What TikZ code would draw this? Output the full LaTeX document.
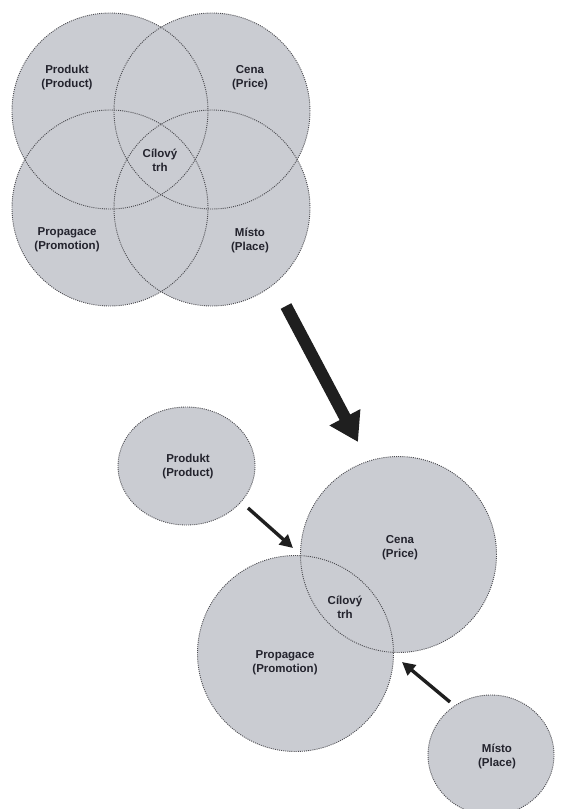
\documentclass[tikz,border=0pt]{standalone}
\usepackage{fontspec}
\setmainfont{Liberation Sans}
\usetikzlibrary{arrows.meta,shapes.geometric}

\definecolor{mixfill}{RGB}{202,204,210}
\definecolor{mixedge}{RGB}{75,75,80}
\definecolor{mixtext}{RGB}{35,35,45}

\tikzset{
  mixline/.style={draw=mixedge, line width=0.9pt, dash pattern=on 1pt off 1.1pt},
  ball/.style={circle, minimum size=196pt, inner sep=0pt},
  egg/.style={ellipse, inner sep=0pt},
  lbl/.style={align=center, text=mixtext, font=\bfseries\fontsize{11.5}{14}\selectfont, inner sep=0pt},
  bigarrow/.style={draw=black!88, line width=12pt, -{Triangle[length=28pt,width=33pt]}},
  smallarrow/.style={draw=black!88, line width=3.4pt, -{Triangle[length=13pt,width=13pt]}}
}

\begin{document}
\begin{tikzpicture}[x=1pt,y=-1pt]
  \useasboundingbox (0,0) rectangle (560,809);

  % ---- four overlapping mix elements ----
  \foreach \n/\cx/\cy in {vprod/110/111, vcena/212/111, vprop/110/208, vmisto/212/208}
    \node[ball, fill=mixfill] (\n) at (\cx,\cy) {};
  \foreach \n/\cx/\cy in {vprod/110/111, vcena/212/111, vprop/110/208, vmisto/212/208}
    \node[ball, mixline] at (\cx,\cy) {};

  \node[lbl] (tprod)  at (67,78)   {Produkt\\(Product)};
  \node[lbl] (tcena)  at (250,78)  {Cena\\(Price)};
  \node[lbl] (tcil)   at (160,160) {Cílový\\trh};
  \node[lbl] (tprop)  at (67,240)  {Propagace\\(Promotion)};
  \node[lbl] (tmisto) at (250,240) {Místo\\(Place)};

  % ---- transition arrow ----
  \coordinate (bigfrom) at (286,306);
  \coordinate (bigto)   at (358,442);
  \draw[bigarrow] (bigfrom) -- (bigto);

  % ---- separated elements ----
  \node[egg, fill=mixfill, mixline, minimum width=137pt, minimum height=118pt] (prod) at (186.5,466) {};
  \node[egg, fill=mixfill, mixline, minimum width=126pt, minimum height=120pt] (misto) at (491,755) {};

  \node[ball, fill=mixfill] (cena) at (398.5,554.5) {};
  \node[ball, fill=mixfill] (prop) at (295.5,653.5) {};
  \node[ball, mixline] at (398.5,554.5) {};
  \node[ball, mixline] at (295.5,653.5) {};

  \node[lbl] (lprod)  at (188,467) {Produkt\\(Product)};
  \node[lbl] (lcena)  at (400,548) {Cena\\(Price)};
  \node[lbl] (lcil)   at (345,607) {Cílový\\trh};
  \node[lbl] (lprop)  at (285,663) {Propagace\\(Promotion)};
  \node[lbl] (lmisto) at (497,756) {Místo\\(Place)};

  % ---- joining arrows ----
  \coordinate (prodout)  at (248,508);
  \coordinate (cutupper) at (293,548);
  \coordinate (mistoout) at (450,702);
  \coordinate (cutlower) at (402,662);
  \draw[smallarrow] (prodout) -- (cutupper);
  \draw[smallarrow] (mistoout) -- (cutlower);
\end{tikzpicture}
\end{document}
